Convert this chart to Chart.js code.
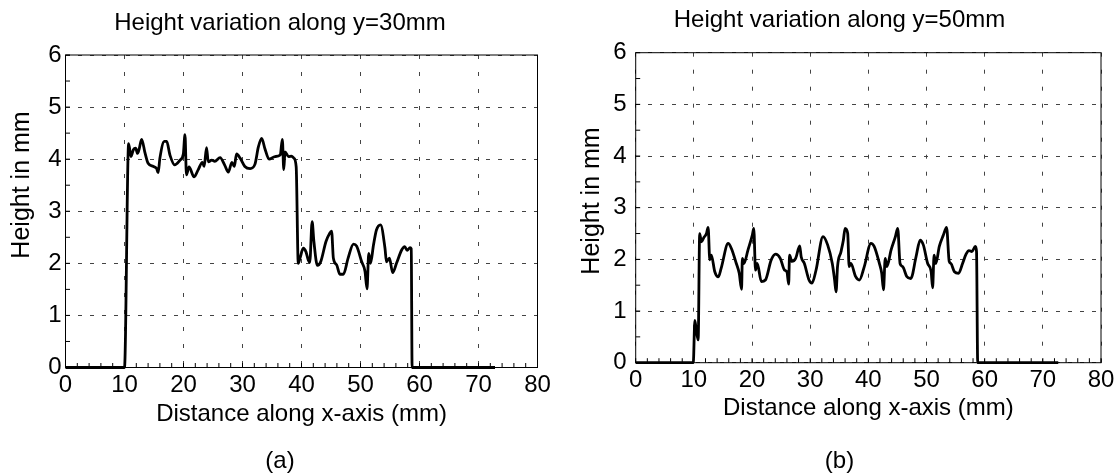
<!DOCTYPE html>
<html><head><meta charset="utf-8">
<script src="https://cdn.jsdelivr.net/npm/chart.js@4.4.0/dist/chart.umd.min.js"></script>
<style>
html,body{margin:0;padding:0;background:#fff;}
#wrap{position:relative;width:1119px;height:476px;overflow:hidden;}
#c1{position:absolute;left:0;top:0;}
#c2{position:absolute;left:560px;top:0;}
</style></head><body>
<div id="wrap">
<canvas id="c1" width="560" height="476" style="width:560px;height:476px"></canvas>
<canvas id="c2" width="559" height="476" style="width:559px;height:476px"></canvas>
</div>
<script>
// ---- data ----
const titleA = 'Height variation along y=30mm';
const titleB = 'Height variation along y=50mm';
const panelA = '(a)';
const panelB = '(b)';
const xAxisTitle = 'Distance along x-axis (mm)';
const yAxisTitle = 'Height in mm';
const xMin = 0, xMax = 80, xStep = 10, xMinorStep = 2;
const yMin = 0, yMax = 6, yStep = 1, yMinorStep = 0.5;

const xA = [0, 10.0, 10.7, 11.1, 11.5, 11.9, 12.2, 12.5, 12.9, 13.5, 14.0, 14.9, 15.45, 15.7, 16.0, 16.75, 17.15, 17.7, 18.5, 19.4, 19.97, 20.25, 20.5, 20.93, 21.8, 22.5, 23.2, 23.5, 23.9, 24.2, 24.8, 25.3, 26.2, 27.0, 27.6, 28.2, 28.6, 29.0, 29.6, 30.4, 31.3, 32.1, 32.7, 33.25, 33.8, 34.5, 35.5, 36.4, 36.75, 37.0, 37.2, 37.8, 38.3, 38.7, 39.1, 39.45, 39.75, 40.3, 40.76, 41.16, 41.4, 41.8, 42.1, 42.7, 43.25, 44.15, 44.7, 45.1, 45.4, 45.96, 46.5, 47.1, 47.9, 48.8, 49.35, 50.2, 50.76, 51.1, 51.4, 51.7, 52.2, 52.7, 53.4, 54.15, 54.4, 54.9, 55.45, 56.1, 57.0, 57.5, 57.9, 58.4, 58.6, 58.75, 72.8];
const yA = [0, 0, 4.3, 4.05, 4.18, 4.21, 4.11, 4.2, 4.38, 4.11, 3.92, 3.86, 3.82, 3.74, 4.02, 4.34, 4.34, 4.08, 3.89, 3.98, 4.1, 4.47, 3.7, 3.85, 3.66, 3.8, 3.94, 3.86, 4.22, 3.95, 3.98, 3.96, 4.03, 3.88, 3.75, 3.94, 3.86, 4.1, 4.02, 3.86, 3.82, 3.9, 4.24, 4.4, 4.2, 4.0, 4.05, 4.08, 4.38, 3.8, 4.14, 4.05, 4.06, 4.02, 3.85, 2.0, 2.1, 2.29, 2.22, 2.06, 2.02, 2.8, 2.42, 1.96, 2.03, 2.42, 2.56, 2.62, 2.1, 1.97, 1.79, 1.79, 2.1, 2.37, 2.33, 2.03, 1.85, 1.51, 2.19, 2.0, 2.35, 2.64, 2.74, 2.29, 2.03, 2.1, 1.82, 2.0, 2.26, 2.32, 2.25, 2.3, 2.28, 0, 0];

const xB = [0, 9.9, 10.17, 10.45, 10.74, 11.0, 11.3, 11.7, 12.17, 12.45, 12.74, 13.0, 13.6, 14.2, 14.7, 15.9, 16.45, 17.3, 17.8, 18.2, 18.34, 18.6, 19.3, 20.05, 20.3, 20.6, 20.9, 21.6, 22.3, 23.3, 24.05, 24.85, 25.6, 26.0, 26.3, 26.45, 26.85, 27.5, 28.2, 28.45, 29.0, 29.8, 30.3, 31.0, 32.2, 33.0, 33.8, 34.2, 34.45, 34.7, 35.3, 35.7, 36.0, 36.45, 36.7, 37.0, 37.8, 38.45, 39.3, 40.45, 41.0, 41.9, 42.3, 42.6, 42.9, 43.2, 43.9, 44.65, 45.05, 45.45, 45.9, 46.6, 47.3, 48.2, 48.9, 49.45, 50.2, 50.8, 51.05, 51.3, 51.6, 52.2, 52.9, 53.45, 53.9, 54.2, 54.8, 55.5, 56.2, 56.8, 57.3, 57.8, 58.4, 58.6, 58.8, 72.65];
const yB = [0, 0, 0.82, 0.6, 0.44, 2.5, 2.34, 2.42, 2.5, 2.62, 1.99, 2.08, 1.76, 1.66, 1.83, 2.31, 2.21, 1.92, 1.73, 1.42, 2.02, 1.92, 2.18, 2.47, 2.6, 1.79, 1.92, 1.57, 1.6, 1.99, 2.1, 2.02, 1.79, 1.76, 1.52, 2.08, 1.96, 2.02, 2.26, 2.05, 1.92, 1.6, 1.54, 1.79, 2.44, 2.28, 1.92, 1.6, 1.37, 1.86, 2.15, 2.37, 2.6, 2.5, 1.86, 1.92, 1.67, 1.6, 1.86, 2.31, 2.25, 1.92, 1.73, 1.41, 2.02, 1.86, 2.18, 2.44, 2.6, 1.92, 1.86, 1.67, 1.63, 2.05, 2.37, 2.28, 1.92, 1.76, 1.45, 2.08, 1.92, 2.25, 2.47, 2.62, 1.96, 1.92, 1.76, 1.73, 1.92, 2.1, 2.17, 2.15, 2.25, 2.15, 0, 0];

// ---- rendering ----
Chart.defaults.font.family = "'Liberation Sans', Arial, Helvetica, sans-serif";
Chart.defaults.color = '#000';

const framePlugin = {
  id: 'frame',
  beforeDatasetsDraw(chart) {
    const {ctx, chartArea: a, scales: {x, y}} = chart;
    ctx.save();
    ctx.setLineDash([]);
    ctx.strokeStyle = '#000';
    ctx.lineWidth = 1;
    ctx.strokeRect(a.left, a.top, a.right - a.left, a.bottom - a.top);
    ctx.beginPath();
    for (let v = xMin; v <= xMax + 1e-9; v += xMinorStep) {
      const px = x.getPixelForValue(v);
      ctx.moveTo(px, a.bottom); ctx.lineTo(px, a.bottom - 4.5);
    }
    for (let v = yMin; v <= yMax + 1e-9; v += yMinorStep) {
      const py = y.getPixelForValue(v);
      ctx.moveTo(a.left, py); ctx.lineTo(a.left + 4.5, py);
    }
    ctx.stroke();
    ctx.restore();
  }
};

const yTitlePlugin = {
  id: 'ytitle',
  afterDraw(chart, args, opts) {
    const ctx = chart.ctx;
    ctx.save();
    ctx.translate(opts.x, opts.y);
    ctx.rotate(-Math.PI / 2);
    ctx.font = opts.size + "px 'Liberation Sans', Arial, sans-serif";
    ctx.fillStyle = '#000';
    ctx.textAlign = 'center';
    ctx.textBaseline = 'middle';
    ctx.fillText(opts.text, 0, 0);
    ctx.restore();
  }
};

function makeChart(canvasId, xs, ys, title, panel, g) {
  const pts = xs.map((v, i) => ({x: v, y: ys[i]}));
  return new Chart(document.getElementById(canvasId), {
    type: 'line',
    data: { datasets: [{
      data: pts,
      borderColor: '#000',
      borderWidth: 2.8,
      pointRadius: 0,
      fill: false,
      clip: 6,
      cubicInterpolationMode: 'monotone',
      borderJoinStyle: 'round',
      borderCapStyle: 'butt'
    }]},
    options: {
      responsive: false,
      animation: false,
      devicePixelRatio: 1,
      events: [],
      layout: { padding: 0 },
      plugins: {
        legend: { display: false },
        tooltip: { enabled: false },
        title: { display: true, text: title, color: '#000',
          font: { size: 24, weight: 'normal' },
          padding: { top: g.titleTop, bottom: g.titleBottom } },
        subtitle: { display: true, text: panel, position: 'bottom', color: '#000',
          font: { size: 24, weight: 'normal' },
          padding: { top: g.subTop, bottom: 0 } },
        ytitle: { text: yAxisTitle, x: g.yTitleX, y: g.yTitleY, size: 25 }
      },
      scales: {
        x: {
          type: 'linear', position: 'bottom', min: xMin, max: xMax,
          afterFit: s => { s.height = g.xHeight; },
          ticks: { stepSize: xStep, autoSkip: false, maxRotation: 0, color: '#000',
            font: { size: 24 }, padding: 3.3 },
          grid: { color: '#444', lineWidth: 1, drawTicks: false },
          border: { display: false, dash: [4, 13] },
          title: { display: true, text: xAxisTitle, color: '#000',
            font: { size: 24 }, padding: { top: 0, bottom: 0 } }
        },
        y: {
          type: 'linear', position: 'left', min: yMin, max: yMax,
          afterFit: s => { s.width = g.yWidth; },
          ticks: { stepSize: yStep, color: '#000', font: { size: 24 }, padding: g.yTickPad },
          grid: { color: '#444', lineWidth: 1, drawTicks: false },
          border: { display: false, dash: [4, 8] }
        },
        yR: {
          type: 'linear', position: 'right', display: true,
          afterFit: s => { s.width = g.rightW; },
          ticks: { display: false },
          grid: { display: false, drawTicks: false },
          border: { display: false }
        }
      }
    },
    plugins: [framePlugin, yTitlePlugin]
  });
}

makeChart('c1', xA, yA, titleA, panelA, {
  yWidth: 65.5, rightW: 22.5, titleTop: 9, titleBottom: 17.2,
  xHeight: 60.9, subTop: 18.8, yTitleX: 22, yTitleY: 185, yTickPad: 4
});
makeChart('c2', xB, yB, titleB, panelB, {
  yWidth: 75.7, rightW: 18, titleTop: 5.6, titleBottom: 18.3,
  xHeight: 59.7, subTop: 24.8, yTitleX: 32, yTitleY: 201, yTickPad: 9
});
</script>
</body></html>
